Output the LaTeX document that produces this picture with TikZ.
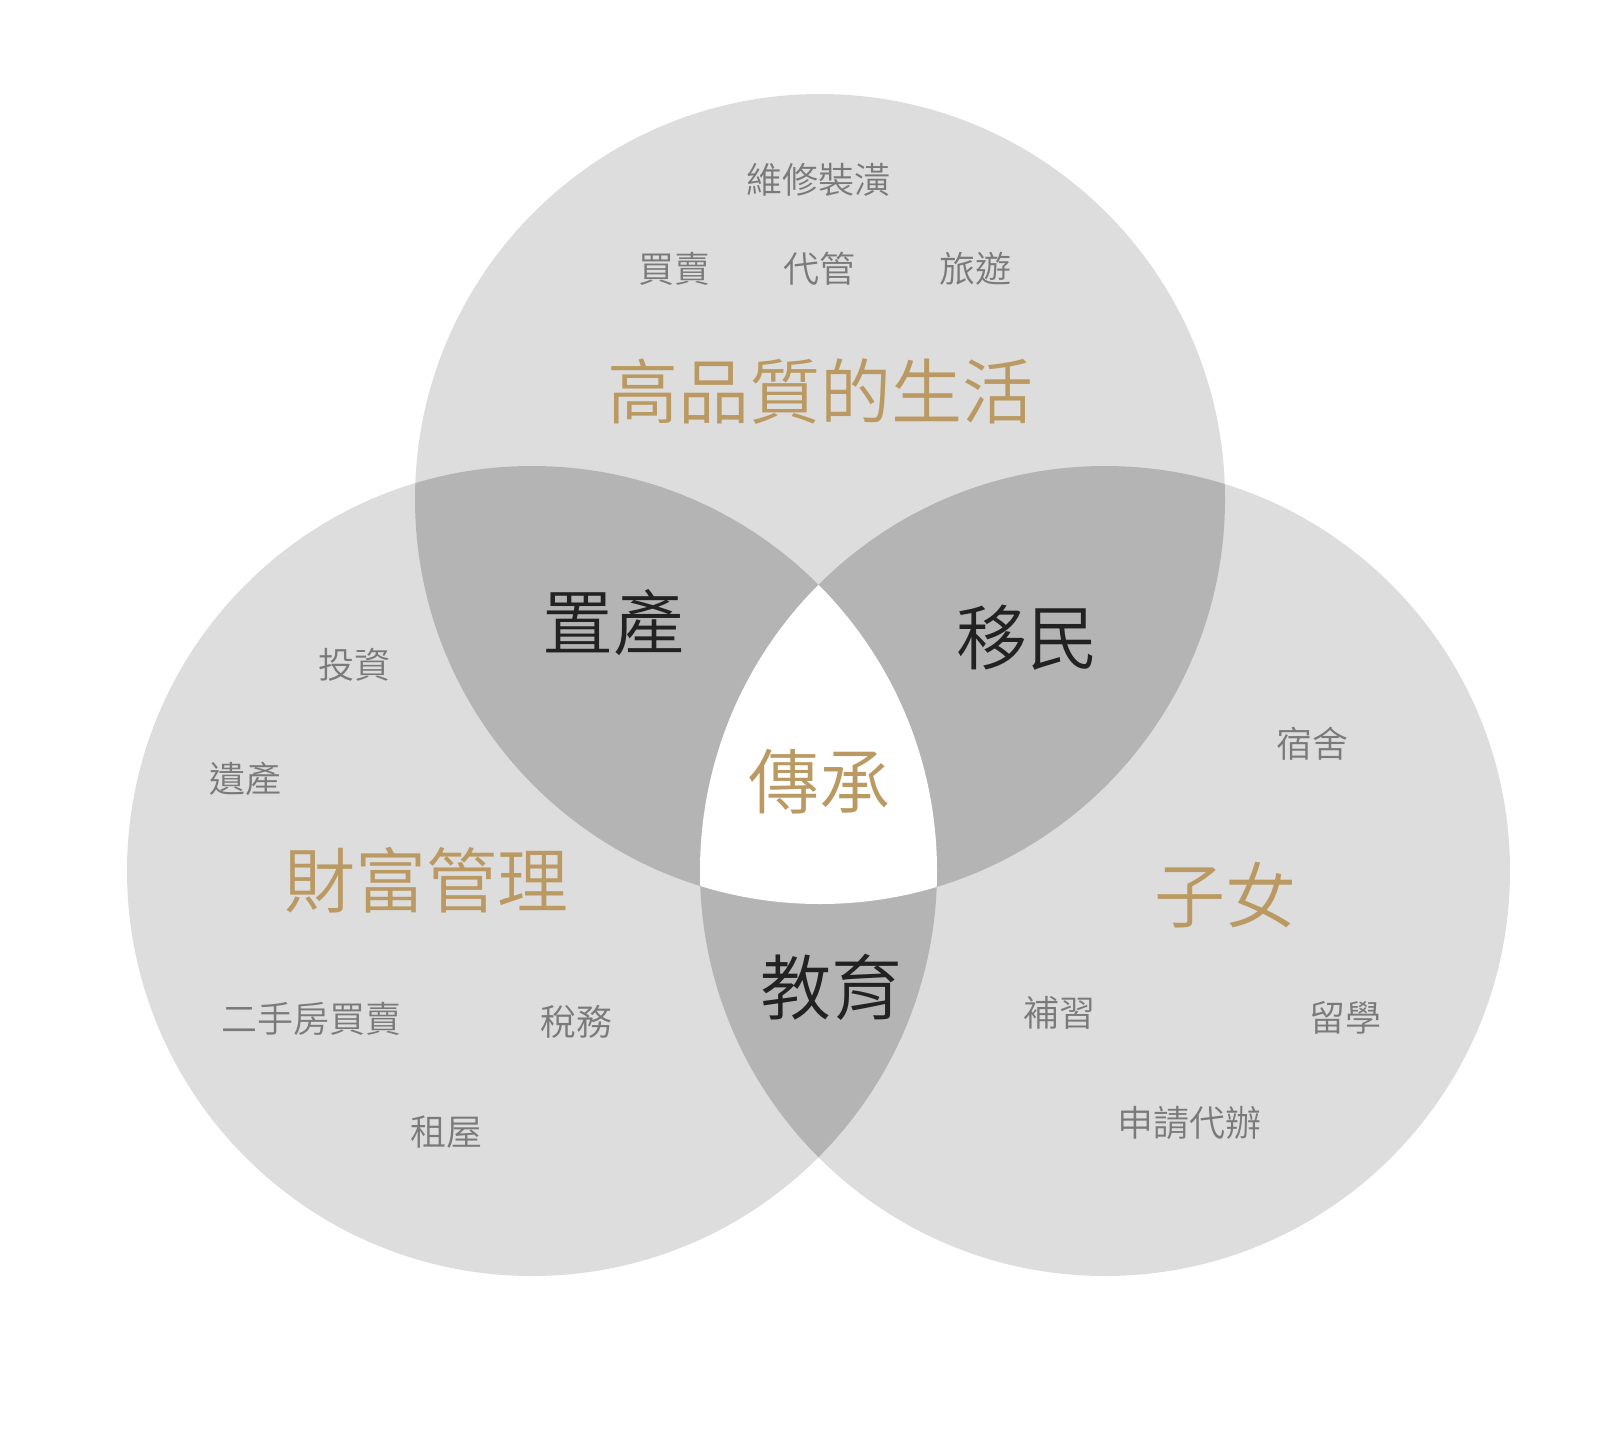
\documentclass[tikz,border=0pt]{standalone}
\usepackage{fontspec}
\setmainfont{Noto Sans CJK TC DemiLight}
\definecolor{lightg}{HTML}{DDDDDD}
\definecolor{darkg}{HTML}{B4B4B4}
\definecolor{gold}{HTML}{BA9A62}
\definecolor{smallg}{HTML}{7A7A7A}
\definecolor{darktxt}{HTML}{222222}
\begin{document}
\begin{tikzpicture}[x=1pt,y=-1pt,
  big/.style={font=\fontsize{71}{71}\selectfont, text=gold, inner sep=0pt},
  mid/.style={font=\fontsize{71}{71}\selectfont, text=darktxt, inner sep=0pt},
  small/.style={font=\fontsize{36}{36}\selectfont, text=smallg, inner sep=0pt}]
\useasboundingbox (0,0) rectangle (1597,1454);
\def\R{405pt}
\coordinate (ct) at (820,499);
\coordinate (cl) at (532,871);
\coordinate (cr) at (1105,871);
% circles
\fill[lightg] (ct) circle[radius=\R];
\fill[lightg] (cl) circle[radius=\R];
\fill[lightg] (cr) circle[radius=\R];
% pairwise overlaps
\begin{scope}
  \clip (ct) circle[radius=\R];
  \fill[darkg] (cl) circle[radius=\R];
  \fill[darkg] (cr) circle[radius=\R];
\end{scope}
\begin{scope}
  \clip (cl) circle[radius=\R];
  \fill[darkg] (cr) circle[radius=\R];
\end{scope}
% triple overlap
\begin{scope}
  \clip (ct) circle[radius=\R];
  \clip (cl) circle[radius=\R];
  \fill[white] (cr) circle[radius=\R];
\end{scope}
% top circle texts
\node[small] (t1) at (818,180) {維修裝潢};
\node[small] (t2) at (674,269) {買賣};
\node[small] (t3) at (819,269) {代管};
\node[small] (t4) at (975,269) {旅遊};
\node[big] (tt) at (820,392) {高品質的生活};
% overlaps
\node[mid] (o1) at (613,623) {置產};
\node[mid] (o2) at (1027,638) {移民};
\node[big] (o3) at (819,782) {傳承};
\node[mid] (o4) at (831,987) {教育};
% left circle texts
\node[small] (l1) at (354,665) {投資};
\node[small] (l2) at (245,779) {遺產};
\node[big] (lt) at (426,880) {財富管理};
\node[small] (l3) at (311,1019) {二手房買賣};
\node[small] (l4) at (576,1022) {稅務};
\node[small] (l5) at (446,1132) {租屋};
% right circle texts
\node[small] (r1) at (1312,744) {宿舍};
\node[big] (rt) at (1225,895) {子女};
\node[small] (r2) at (1059,1013) {補習};
\node[small] (r3) at (1345,1018) {留學};
\node[small] (r4) at (1189,1123) {申請代辦};
\end{tikzpicture}
\end{document}
